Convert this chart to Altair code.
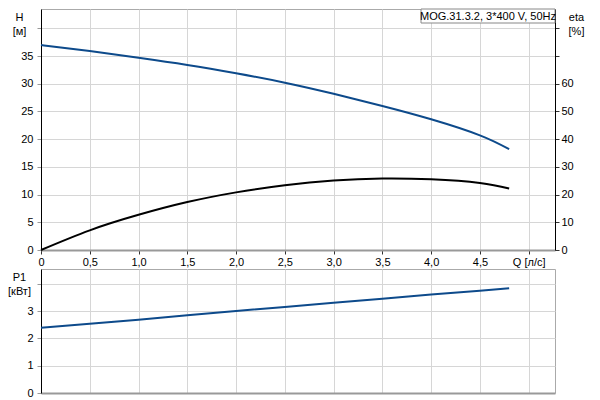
import altair as alt
import pandas as pd

# Data
Q = [0.0, 0.5, 1.0, 1.5, 2.0, 2.5, 3.0, 3.5, 4.0, 4.5, 4.8]
H = [37.0, 35.9, 34.7, 33.4, 31.9, 30.2, 28.2, 26.0, 23.6, 20.7, 18.2]
ETA = [0.0, 7.1, 12.7, 17.3, 20.8, 23.4, 25.1, 25.8, 25.5, 24.2, 22.2]
P1 = [2.39, 2.54, 2.69, 2.85, 3.01, 3.16, 3.31, 3.46, 3.61, 3.75, 3.84]

X_TICKS = [0.0, 0.5, 1.0, 1.5, 2.0, 2.5, 3.0, 3.5, 4.0, 4.5, 5.0]
H_TICKS = [0, 5, 10, 15, 20, 25, 30, 35, 40]
ETA_TICKS = [0, 10, 20, 30, 40, 50, 60, 70, 80]
P1_TICKS = [0, 1, 2, 3, 4]

LEGEND_TEXT = "MOG.31.3.2, 3*400 V, 50Hz"

df = pd.DataFrame({"Q": Q, "H": H, "eta": ETA, "P1": P1})

W = 514
H_TOP = 241
H_BOT = 124
BLUE = "#0d4a8b"
FONT = "Liberation Sans"

xscale = alt.Scale(domain=[0, 5.27], nice=False, zero=False)
nb = "\u00a0"
x_label_expr = (
    "datum.value >= 5 ? '" + nb * 5 + "Q [л/с]' : "
    "(datum.value == 0 ? '0' : replace(format(datum.value, '.1f'), '.', ','))"
)

x_top = alt.X(
    "Q:Q",
    scale=xscale,
    axis=alt.Axis(
        values=X_TICKS, labelExpr=x_label_expr, title=None, grid=True,
        labelFlush=False, labelOverlap=False, domainColor="#999999",
        domainWidth=2, tickColor="#333333", tickSize=4, labelPadding=2,
    ),
)

h_line = alt.Chart(df).mark_line(color=BLUE, strokeWidth=2, interpolate="natural").encode(
    x=x_top,
    y=alt.Y(
        "H:Q",
        scale=alt.Scale(domain=[0, 43.5], nice=False),
        axis=alt.Axis(
            orient="left", values=H_TICKS,
            labelExpr="datum.value > 35 ? '' : datum.label",
            title=["H", "[м]"], titleAngle=0, titleAlign="center",
            titleBaseline="top", titleX=-22, titleY=2, titleLineHeight=14,
            grid=True, domainColor="#000000", tickColor="#999999",
            tickSize=4, labelPadding=4,
        ),
    ),
)

eta_line = alt.Chart(df).mark_line(color="#000000", strokeWidth=2, interpolate="natural").encode(
    x=alt.X("Q:Q", scale=xscale),
    y=alt.Y(
        "eta:Q",
        scale=alt.Scale(domain=[0, 87], nice=False),
        axis=alt.Axis(
            orient="right", values=ETA_TICKS,
            labelExpr="datum.value > 60 ? '' : datum.label",
            title=["eta", "[%]"], titleAngle=0, titleAlign="center",
            titleBaseline="top", titleX=21, titleY=2, titleLineHeight=14,
            grid=False, domainColor="#000000", tickColor="#333333",
            tickSize=4, labelPadding=2,
        ),
    ),
)

legend_df = pd.DataFrame({"t": [LEGEND_TEXT]})
legend_box = alt.Chart(legend_df).mark_rect(
    fill="white", stroke="#888888", strokeWidth=1
).encode(
    x=alt.value(380), x2=alt.value(W), y=alt.value(0), y2=alt.value(14)
)
legend_txt = alt.Chart(legend_df).mark_text(
    font=FONT, fontSize=11, color="#000000", align="center", baseline="middle"
).encode(
    text="t:N", x=alt.value(447), y=alt.value(7.5)
)

top = alt.layer(h_line, eta_line, legend_box, legend_txt).resolve_scale(
    y="independent"
).properties(width=W, height=H_TOP)

bottom = alt.Chart(df).mark_line(color=BLUE, strokeWidth=2).encode(
    x=alt.X(
        "Q:Q", scale=xscale,
        axis=alt.Axis(values=X_TICKS, labels=False, ticks=False, title=None,
                      grid=True, domainColor="#999999", domainWidth=2),
    ),
    y=alt.Y(
        "P1:Q",
        scale=alt.Scale(domain=[0, 4.55], nice=False),
        axis=alt.Axis(
            values=P1_TICKS, labelExpr="datum.value > 3 ? '' : datum.label",
            title=["P1", "[кВт]"], titleAngle=0, titleAlign="center",
            titleBaseline="top", titleX=-22, titleY=2, titleLineHeight=14,
            grid=True, domainColor="#000000", tickColor="#999999",
            tickSize=4, labelPadding=4,
        ),
    ),
).properties(width=W, height=H_BOT)

chart = alt.vconcat(top, bottom, spacing=0).properties(
    padding={"left": -1, "top": 0, "right": 0, "bottom": 0},
    background="white",
).configure_view(
    stroke="#aaaaaa", strokeWidth=1
).configure_axis(
    labelFont=FONT, labelFontSize=11, labelColor="#000000",
    titleFont=FONT, titleFontSize=11, titleColor="#000000",
    titleFontWeight="normal", gridColor="#d6d6d6", gridWidth=1,
)

chart.save("out.html", embed_options={"renderer": "svg", "actions": False})
